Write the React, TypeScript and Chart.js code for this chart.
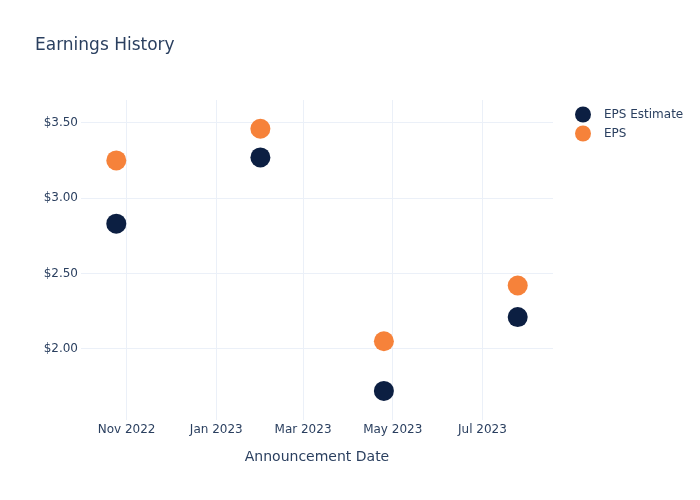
import React, { useEffect, useRef } from "react";
import { Chart, registerables } from "chart.js";

Chart.register(...registerables);

const chartTitle = "Earnings History";
const xAxisTitle = "Announcement Date";
const seriesNames = ["EPS Estimate", "EPS"];
const seriesColors = ["#0c1f42", "#f6823a"];
const announcementDates = ["2022-10-25", "2023-01-31", "2023-04-25", "2023-07-25"];
const epsEstimate = [2.83, 3.27, 1.72, 2.21];
const epsActual = [3.25, 3.46, 2.05, 2.42];
const xTickDates = ["2022-11-01", "2023-01-01", "2023-03-01", "2023-05-01", "2023-07-01"];
const xTickLabels = ["Nov 2022", "Jan 2023", "Mar 2023", "May 2023", "Jul 2023"];
const yTickValues = [2.0, 2.5, 3.0, 3.5];
const xRange = ["2022-10-01", "2023-08-18"];
const yRange = [1.527, 3.651];

const FONT = '"DejaVu Sans", Verdana, sans-serif';
const TEXT = "#2a3f5f";
const GRID = "#ebf0f8";

const ts = (d: string) => Date.parse(d + "T00:00:00Z");

export default function App() {
  const ref = useRef<HTMLCanvasElement | null>(null);

  useEffect(() => {
    if (!ref.current) return;
    const xTicks = xTickDates.map(ts);

    const overlay = {
      id: "overlay",
      afterDraw(chart: any) {
        const ctx = chart.ctx;
        ctx.save();
        ctx.fillStyle = TEXT;
        ctx.font = `17px ${FONT}`;
        ctx.textAlign = "left";
        ctx.textBaseline = "alphabetic";
        ctx.fillText(chartTitle, 35, 50);
        chart.data.datasets.forEach((ds: any, i: number) => {
          const y = 114.5 + 19 * i;
          ctx.beginPath();
          ctx.arc(583, y, 8, 0, Math.PI * 2);
          ctx.fillStyle = ds.backgroundColor;
          ctx.fill();
          ctx.fillStyle = TEXT;
          ctx.font = `12px ${FONT}`;
          ctx.textBaseline = "middle";
          ctx.fillText(ds.label, 604, y);
        });
        ctx.restore();
      },
    };

    const mk = (vals: number[], i: number) => ({
      label: seriesNames[i],
      data: announcementDates.map((d, k) => ({ x: ts(d), y: vals[k] })),
      backgroundColor: seriesColors[i],
      borderColor: seriesColors[i],
      pointRadius: 10,
      pointBorderWidth: 0,
      showLine: false,
    });

    const chart = new Chart(ref.current, {
      type: "scatter",
      data: { datasets: [mk(epsEstimate, 0), mk(epsActual, 1)] },
      options: {
        animation: false,
        responsive: false,
        layout: { padding: { left: 0, top: 100, right: 147, bottom: 0 } },
        plugins: { legend: { display: false }, title: { display: false }, tooltip: { enabled: false } },
        scales: {
          x: {
            type: "linear",
            min: ts(xRange[0]),
            max: ts(xRange[1]),
            afterBuildTicks: (s: any) => {
              s.ticks = xTicks.map((v) => ({ value: v }));
            },
            afterFit: (s: any) => {
              s.height = 80;
            },
            ticks: {
              autoSkip: false,
              maxRotation: 0,
              padding: 3,
              color: TEXT,
              font: { family: FONT, size: 12 },
              callback: (v: any) => {
                const idx = xTicks.indexOf(Number(v));
                return idx >= 0 ? xTickLabels[idx] : "";
              },
            },
            grid: { color: GRID, drawTicks: false },
            border: { display: false },
            title: {
              display: true,
              text: xAxisTitle,
              color: TEXT,
              font: { family: FONT, size: 14 },
              padding: { top: 0, bottom: 34 },
            },
          },
          y: {
            type: "linear",
            min: yRange[0],
            max: yRange[1],
            afterBuildTicks: (s: any) => {
              s.ticks = yTickValues.map((v) => ({ value: v }));
            },
            afterFit: (s: any) => {
              s.width = 81;
            },
            ticks: {
              padding: 3,
              color: TEXT,
              font: { family: FONT, size: 12 },
              callback: (v: any) => "$" + Number(v).toFixed(2),
            },
            grid: { color: GRID, drawTicks: false },
            border: { display: false },
          },
        },
      },
      plugins: [overlay],
    } as any);

    return () => chart.destroy();
  }, []);

  return (
    <div style={{ position: "absolute", left: 0, top: 0, width: 700, height: 500, background: "#fff" }}>
      <canvas ref={ref} width={700} height={500} style={{ display: "block" }} />
    </div>
  );
}
